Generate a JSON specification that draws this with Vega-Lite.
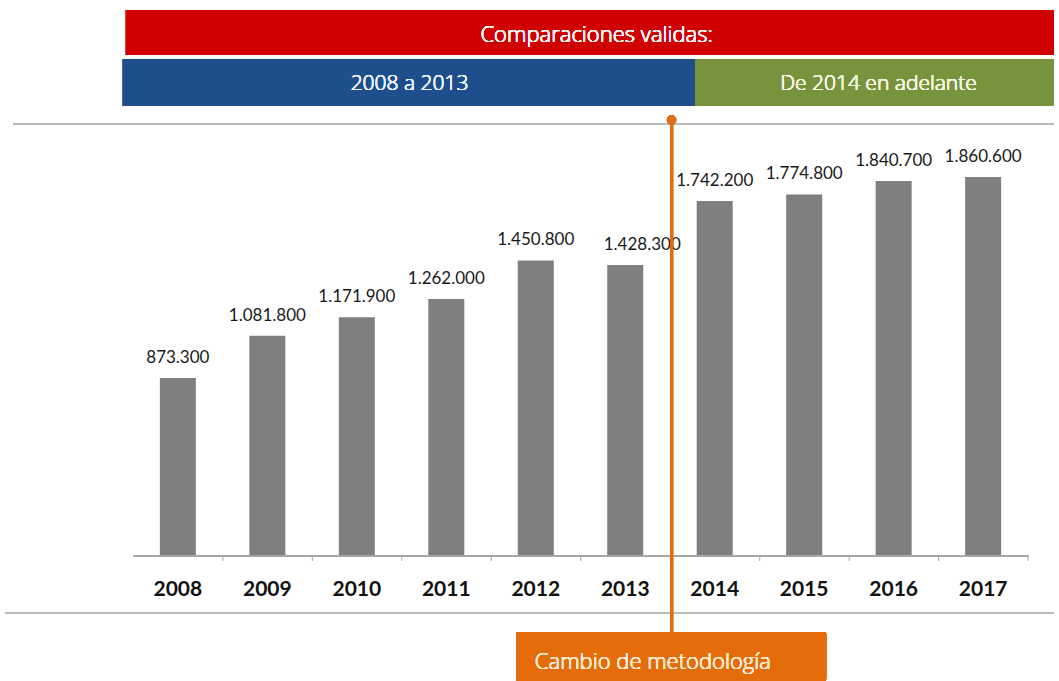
{
  "$schema": "https://vega.github.io/schema/vega-lite/v6.json",
  "width": 1059,
  "height": 681,
  "autosize": {"type": "fit", "contains": "padding"},
  "padding": 0,
  "background": "white",
  "config": {
    "view": {"stroke": null},
    "locale": {"number": {"decimal": ",", "thousands": ".", "grouping": [3], "currency": ["", " €"]}},
    "text": {"font": "Lato", "fontWeight": "normal"}
  },
  "datasets": {
    "bars": [
      {"year": 2008, "value": 873300},
      {"year": 2009, "value": 1081800},
      {"year": 2010, "value": 1171900},
      {"year": 2011, "value": 1262000},
      {"year": 2012, "value": 1450800},
      {"year": 2013, "value": 1428300},
      {"year": 2014, "value": 1742200},
      {"year": 2015, "value": 1774800},
      {"year": 2016, "value": 1840700},
      {"year": 2017, "value": 1860600}
    ]
  },
  "data": {"name": "bars"},
  "encoding": {
    "x": {"field": "year", "type": "quantitative", "scale": {"domain": [2006.068, 2017.792], "nice": false, "zero": false}, "axis": null},
    "y": {"field": "value", "type": "quantitative", "scale": {"domain": [-613600, 2729400], "nice": false, "zero": false}, "axis": null}
  },
  "layer": [
    {
      "mark": {"type": "rule", "color": "#BBBBBB", "strokeWidth": 1.5},
      "encoding": {"x": {"datum": 2006.157}, "x2": {"datum": 2017.792}, "y": {"datum": 2120700}}
    },
    {
      "mark": {"type": "rule", "color": "#BBBBBB", "strokeWidth": 1.5},
      "encoding": {"x": {"datum": 2006.068}, "x2": {"datum": 2017.792}, "y": {"datum": -279800}}
    },
    {
      "mark": {"type": "bar", "size": 36, "color": "#7F7F7F"},
      "encoding": {"y2": {"datum": 0}}
    },
    {
      "mark": {"type": "rule", "color": "#A6A6A6", "strokeWidth": 1},
      "encoding": {"x": {"datum": 2007.507}, "x2": {"datum": 2017.504}, "y": {"datum": 0}}
    },
    {
      "mark": {"type": "rule", "color": "#A6A6A6", "strokeWidth": 1, "xOffset": 45},
      "encoding": {"y": {"datum": 0}, "y2": {"datum": -24500}}
    },
    {
      "mark": {"type": "text", "fontSize": 21, "fontWeight": "bold", "color": "#111111", "baseline": "middle"},
      "encoding": {"y": {"datum": -166900}, "text": {"field": "year", "type": "nominal"}}
    },
    {
      "transform": [{"filter": "datum.year != 2013"}],
      "mark": {"type": "text", "fontSize": 17, "color": "#1a1a1a", "baseline": "bottom", "dy": -11},
      "encoding": {"text": {"field": "value", "type": "quantitative", "format": ",d"}}
    },
    {
      "transform": [{"filter": "datum.year == 2013"}],
      "mark": {"type": "text", "fontSize": 17, "color": "#1a1a1a", "baseline": "bottom", "dy": -11, "dx": 17},
      "encoding": {"text": {"field": "value", "type": "quantitative", "format": ",d"}}
    },
    {
      "mark": {"type": "rect", "color": "#D00000"},
      "encoding": {"x": {"datum": 2007.419}, "x2": {"datum": 2017.792}, "y": {"datum": 2680300}, "y2": {"datum": 2459400}}
    },
    {
      "mark": {"type": "rect", "color": "#1F4E8C"},
      "encoding": {"x": {"datum": 2007.385}, "x2": {"datum": 2013.784}, "y": {"datum": 2439800}, "y2": {"datum": 2209100}}
    },
    {
      "mark": {"type": "rect", "color": "#77933C"},
      "encoding": {"x": {"datum": 2013.784}, "x2": {"datum": 2017.792}, "y": {"datum": 2439800}, "y2": {"datum": 2209100}}
    },
    {
      "mark": {"type": "text", "font": "Open Sans", "fontSize": 22, "fontWeight": 300, "color": "#FFF4F4", "baseline": "middle", "align": "center"},
      "encoding": {"x": {"datum": 2012.68}, "y": {"datum": 2557600}, "text": {"value": "Comparaciones validas:"}}
    },
    {
      "mark": {"type": "text", "font": "Open Sans", "fontSize": 21, "fontWeight": 300, "color": "#E8EEF8", "baseline": "middle", "align": "center"},
      "encoding": {"x": {"datum": 2010.59}, "y": {"datum": 2317000}, "text": {"value": "2008 a 2013"}}
    },
    {
      "mark": {"type": "text", "font": "Open Sans", "fontSize": 21, "fontWeight": 300, "color": "#F2F5E0", "baseline": "middle", "align": "center"},
      "encoding": {"x": {"datum": 2015.83}, "y": {"datum": 2317000}, "text": {"value": "De 2014 en adelante"}}
    },
    {
      "mark": {"type": "rule", "color": "#E46C0A", "strokeWidth": 3},
      "encoding": {"x": {"datum": 2013.518}, "y": {"datum": 2140300}, "y2": {"datum": -373100}}
    },
    {
      "mark": {"type": "point", "filled": true, "color": "#D8701C", "size": 90, "opacity": 1},
      "encoding": {"x": {"datum": 2013.518}, "y": {"datum": 2140300}}
    },
    {
      "mark": {"type": "rect", "color": "#E46C0A", "cornerRadius": 2},
      "encoding": {"x": {"datum": 2011.78}, "x2": {"datum": 2015.246}, "y": {"datum": -373100}, "y2": {"datum": -613600}}
    },
    {
      "mark": {"type": "text", "font": "Open Sans", "fontSize": 22, "fontWeight": 300, "color": "#FDE7CF", "baseline": "middle", "align": "left"},
      "encoding": {"x": {"datum": 2011.99}, "y": {"datum": -520300}, "text": {"value": "Cambio de metodología"}}
    }
  ]
}
